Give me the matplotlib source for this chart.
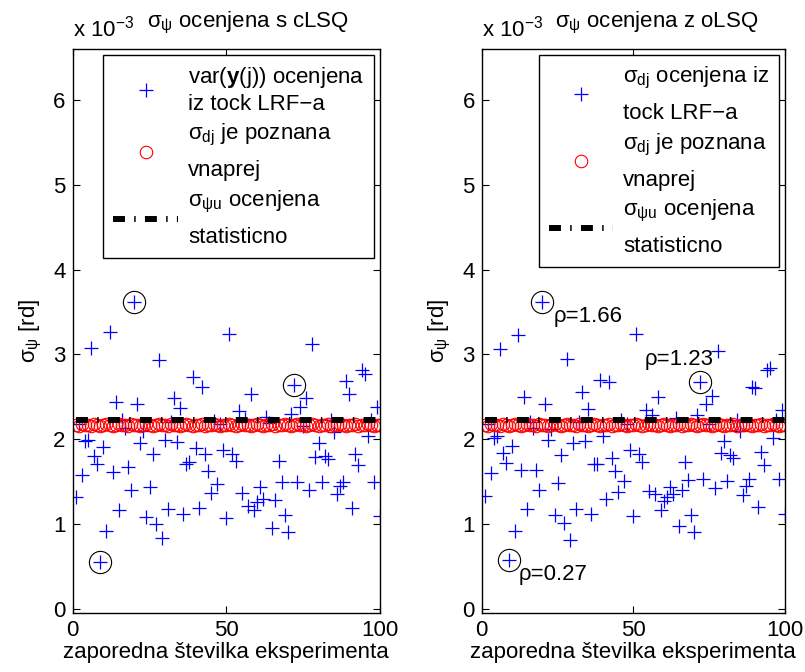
import matplotlib
matplotlib.use("Agg")
import matplotlib.pyplot as plt

plt.rcParams['font.family'] = ['Liberation Sans', 'DejaVu Sans']
plt.rcParams['mathtext.fontset'] = 'custom'
plt.rcParams['mathtext.rm'] = 'Liberation Sans'
plt.rcParams['mathtext.it'] = 'Liberation Sans'
plt.rcParams['mathtext.bf'] = 'Liberation Sans:bold'

FS = 16

# experiment numbers
exp_n = list(range(1, 101))

# sigma_psi estimated with cLSQ (x 10^-3)
left_vals = [1.32, 2.18, 1.58, 1.98, 1.99, 3.07, 1.80, 1.71, 0.55, 1.91,
             0.92, 3.26, 1.61, 2.44, 1.16, 2.22, 2.13, 1.67, 1.40, 3.62,
             2.42, 1.95, 2.10, 1.08, 1.43, 1.82, 1.00, 2.93, 0.83, 1.99,
             1.18, 2.20, 2.49, 1.97, 2.37, 1.12, 1.71, 1.73, 2.73, 1.90,
             1.19, 2.61, 1.82, 1.63, 1.36, 2.21, 1.47, 2.18, 1.87, 1.07,
             3.24, 1.82, 1.74, 2.33, 1.37, 2.24, 1.21, 2.53, 1.16, 1.26,
             1.43, 1.29, 2.26, 2.19, 0.95, 1.28, 1.74, 1.50, 1.11, 0.91,
             2.30, 2.64, 1.50, 2.38, 2.15, 2.49, 1.40, 3.12, 1.79, 1.95,
             1.50, 1.80, 1.77, 2.23, 2.08, 1.35, 1.45, 1.49, 2.69, 2.53,
             1.19, 1.83, 1.70, 2.81, 2.77, 2.04, 2.22, 1.49, 2.38, 1.09]

# sigma_psi estimated with oLSQ (x 10^-3)
right_vals = [1.33, 2.18, 1.60, 2.01, 2.04, 3.06, 1.84, 1.72, 0.57, 1.92,
              0.92, 3.23, 1.64, 2.50, 1.18, 2.20, 2.13, 1.64, 1.40, 3.62,
              2.41, 1.99, 2.12, 1.11, 1.48, 1.81, 1.01, 2.94, 0.81, 1.96,
              1.18, 2.20, 2.56, 1.98, 2.35, 1.12, 1.71, 1.71, 2.70, 2.04,
              1.29, 2.67, 1.78, 1.63, 1.38, 2.22, 1.51, 2.18, 1.87, 1.09,
              3.24, 1.83, 1.73, 2.34, 1.39, 2.29, 1.35, 2.50, 1.17, 1.27,
              1.32, 1.43, 1.35, 2.25, 0.97, 1.40, 1.73, 1.52, 1.11, 0.91,
              2.29, 2.67, 1.53, 2.42, 2.18, 2.51, 1.42, 3.04, 1.84, 1.98,
              1.51, 1.81, 1.78, 2.22, 2.09, 1.34, 1.45, 1.53, 2.62, 2.60,
              1.20, 1.85, 1.69, 2.81, 2.84, 2.01, 2.22, 1.53, 2.34, 1.12]

# known sigma_dj (x 10^-3)
known_vals = [2.17, 2.16, 2.18, 2.17, 2.17, 2.16, 2.18, 2.17, 2.16, 2.17,
              2.18, 2.17, 2.16, 2.17, 2.18, 2.17, 2.17, 2.16, 2.18, 2.17,
              2.17, 2.16, 2.17, 2.18, 2.17, 2.16, 2.17, 2.18, 2.17, 2.17,
              2.16, 2.18, 2.17, 2.17, 2.16, 2.17, 2.18, 2.17, 2.16, 2.17,
              2.17, 2.18, 2.16, 2.17, 2.17, 2.18, 2.17, 2.16, 2.17, 2.17,
              2.18, 2.17, 2.16, 2.17, 2.18, 2.17, 2.17, 2.16, 2.17, 2.18,
              2.17, 2.16, 2.17, 2.17, 2.18, 2.16, 2.17, 2.17, 2.18, 2.17,
              2.16, 2.17, 2.18, 2.17, 2.17, 2.16, 2.17, 2.18, 2.17, 2.16,
              2.17, 2.17, 2.18, 2.16, 2.17, 2.17, 2.18, 2.17, 2.16, 2.17,
              2.17, 2.18, 2.16, 2.17, 2.17, 2.18, 2.17, 2.16, 2.17, 2.17]

# statistically estimated sigma_psi_u (x 10^-3)
stat_x = [1, 100]
stat_val = 2.22

# marked experiments
marked_idx = [9, 20, 72]
rho_labels = ['ρ=0.27', 'ρ=1.66', 'ρ=1.23']
rho_pos = [(12.1, 0.53), (23.8, 3.57), (53.8, 3.06)]

titles = [r'$\sigma_{\psi}$ ocenjena s cLSQ', r'$\sigma_{\psi}$ ocenjena z oLSQ']
plus_labels = ['var($\\mathbf{y}$(j)) ocenjena\niz tock LRF\u2212a',
               '$\\sigma_{dj}$ ocenjena iz\ntock LRF\u2212a']
circle_label = '$\\sigma_{dj}$ je poznana\nvnaprej'
line_label = '$\\sigma_{\\psi u}$ ocenjena\nstatisticno'

fig = plt.figure(figsize=(8.05, 6.72), dpi=100)
ax1 = fig.add_axes([0.0903, 0.0878, 0.3817, 0.8393])
ax2 = fig.add_axes([0.5984, 0.0878, 0.3768, 0.8393])

for i, (ax, vals) in enumerate([(ax1, left_vals), (ax2, right_vals)]):
    p, = ax.plot(exp_n, vals, '+', color='blue', ms=10, mew=0.9,
                 linestyle='none', label=plus_labels[i])
    c, = ax.plot(exp_n, known_vals, 'o', mfc='none', mec='red', ms=9,
                 mew=0.8, linestyle='none', label=circle_label)
    l, = ax.plot(stat_x, [stat_val, stat_val], color='black', lw=4.3,
                 dashes=(2, 1.55, 0.25, 1.55), label=line_label)
    ax.plot([exp_n[k - 1] for k in marked_idx],
            [vals[k - 1] for k in marked_idx], 'o', mfc='none', mec='black',
            ms=16, mew=0.8, linestyle='none')

    ax.set_xlim(0, 100)
    ax.set_ylim(-0.05, 6.6)
    ax.set_xticks([0, 50, 100])
    ax.set_yticks(range(0, 7))
    ax.tick_params(direction='in', top=True, right=True, length=5,
                   width=0.8, labelsize=FS, pad=5)
    for s in ax.spines.values():
        s.set_linewidth(1.0)
    ax.set_xlabel('zaporedna številka eksperimenta', fontsize=FS, labelpad=1)
    ax.set_ylabel(r'$\sigma_{\psi}$ [rd]', fontsize=FS, labelpad=7)
    ax.text(0.242, 1.039, titles[i], transform=ax.transAxes, fontsize=FS,
            ha='left', va='baseline')
    ax.text(0.0, 1.0213, r'x 10$^{-3}$', transform=ax.transAxes, fontsize=FS,
            ha='left', va='baseline')

    leg = ax.legend(handles=[p, c, l], loc='upper right', fontsize=FS,
                    frameon=True, fancybox=False, framealpha=1,
                    edgecolor='black', numpoints=1, handlelength=2.9,
                    handletextpad=0.45, borderpad=0.45, labelspacing=0.35,
                    borderaxespad=0.25)
    leg.get_frame().set_linewidth(1.0)
    for t in leg.get_texts():
        if '_' in t.get_text():
            t.set_linespacing(1.75)
        else:
            t.set_linespacing(1.25)

for txt, (tx, ty) in zip(rho_labels, rho_pos):
    ax2.text(tx, ty, txt, fontsize=FS, ha='left', va='top')

fig.savefig('out.png', dpi=100)
